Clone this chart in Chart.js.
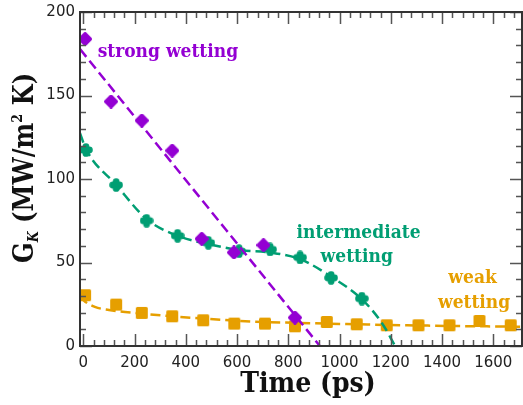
<!DOCTYPE html>
<html>
<head>
<meta charset="utf-8">
<script src="https://cdn.jsdelivr.net/npm/chart.js@4.4.1/dist/chart.umd.min.js"></script>
<style>
  html, body { margin: 0; padding: 0; background: #fff; }
  #chart { display: block; }
</style>
</head>
<body>
<canvas id="chart" width="523" height="405"></canvas>
<script>
// measured points (ps, MW/m^2 K)
const strongTime = [7, 108, 228, 347, 462, 588, 703, 826];
const strongGk = [183.8, 146.4, 135, 117, 64.2, 56, 60.4, 17];

const interTime = [10, 128, 247, 368, 488, 608, 729, 846, 967, 1087];
const interGk = [117.4, 96.4, 75, 66, 61.8, 56.8, 57.8, 53, 40.8, 28.4];

const weakTime = [7, 128, 228, 347, 468, 589, 709, 826, 950, 1067, 1184, 1308, 1429, 1546, 1668];
const weakGk = [30.4, 24.8, 19.8, 17.8, 15.4, 13.4, 13.4, 11.8, 14.4, 13, 12.4, 12.4, 12.4, 15, 12.4];

// dashed fit curves
const strongFitTime = [-13, 923];
const strongFitGk = [177.8, 0];

const interFitTime = [-13, 10, 128, 247, 368, 488, 608, 729, 846, 967, 1087, 1165, 1217];
const interFitGk = [127.5, 118, 96.5, 76, 66, 61, 57.5, 56, 52, 41.5, 28, 13.8, 0];

const weakFitTime = [-13, 0, 45, 100, 228, 345, 468, 589, 709, 826, 950, 1067, 1184, 1308, 1429, 1546, 1668, 1712];
const weakFitGk = [30, 27.5, 23.4, 21.6, 19.4, 17.8, 16.4, 15.2, 14.3, 13.9, 13.4, 13, 12.6, 12.3, 12, 11.8, 11.6, 11.5];

const xTicks = [0, 200, 400, 600, 800, 1000, 1200, 1400, 1600];
const yTicks = [0, 50, 100, 150, 200];

const purple = '#9400d3';
const green = '#009e73';
const orange = '#e69f00';
const serif = '"DejaVu Serif Condensed", "DejaVu Serif", serif';

function zip(xs, ys) {
  return xs.map((x, i) => ({ x: x, y: ys[i] }));
}

function marker(kind, color) {
  const c = document.createElement('canvas');
  c.width = 14; c.height = 14;
  const g = c.getContext('2d');
  g.fillStyle = color;
  g.strokeStyle = color;
  g.lineJoin = 'round';
  if (kind === 'diamond') {
    g.lineWidth = 3.5;
    g.beginPath();
    g.moveTo(7, 1.8); g.lineTo(12.2, 7); g.lineTo(7, 12.2); g.lineTo(1.8, 7);
    g.closePath();
    g.fill(); g.stroke();
  } else if (kind === 'square') {
    g.lineWidth = 3;
    g.beginPath();
    g.rect(2.5, 2.5, 9, 9);
    g.fill(); g.stroke();
  } else {
    // rounded cross
    g.beginPath();
    [[7, 3.6], [10.4, 7], [7, 10.4], [3.6, 7]].forEach(p => {
      g.moveTo(p[0] + 3.4, p[1]);
      g.arc(p[0], p[1], 3.4, 0, Math.PI * 2);
    });
    g.fill();
    g.fillRect(4, 4, 6, 6);
  }
  return c;
}

function fitSet(xs, ys, color) {
  return {
    data: zip(xs, ys),
    showLine: true,
    borderColor: color,
    borderWidth: 2.5,
    borderDash: [10, 5],
    pointRadius: 0,
    pointHoverRadius: 0,
    cubicInterpolationMode: 'monotone',
    fill: false
  };
}

// image markers are drawn at their own size, the small radius keeps
// chart.js from reserving overflow room on the right
function pointSet(xs, ys, color, kind) {
  return {
    data: zip(xs, ys),
    showLine: false,
    pointStyle: marker(kind, color),
    pointRadius: 1,
    pointHoverRadius: 1,
    pointBorderWidth: 0,
    borderWidth: 0,
    backgroundColor: color,
    borderColor: color
  };
}

const frame = {
  id: 'frame',
  afterDatasetsDraw(chart) {
    const ctx = chart.ctx;
    const a = chart.chartArea;
    const xs = chart.scales.x, ys = chart.scales.y;
    ctx.save();
    ctx.strokeStyle = '#555';
    ctx.lineWidth = 1.5;
    // x ticks, bottom and top, pointing in
    for (let v = 0; v <= 1700; v += 40) {
      const px = Math.round(xs.getPixelForValue(v)) + 0.5;
      const len = v % 200 === 0 ? 12 : 6;
      ctx.beginPath();
      ctx.moveTo(px, a.bottom); ctx.lineTo(px, a.bottom - len);
      ctx.moveTo(px, a.top); ctx.lineTo(px, a.top + len);
      ctx.stroke();
    }
    for (let v = 0; v <= 200; v += 10) {
      const py = Math.round(ys.getPixelForValue(v)) + 0.5;
      const len = v % 50 === 0 ? 12 : 6;
      ctx.beginPath();
      ctx.moveTo(a.left, py); ctx.lineTo(a.left + len, py);
      ctx.moveTo(a.right, py); ctx.lineTo(a.right - len, py);
      ctx.stroke();
    }
    ctx.strokeStyle = '#333';
    ctx.lineWidth = 2;
    ctx.strokeRect(a.left, a.top, a.right - a.left, a.bottom - a.top);

    // series labels
    ctx.font = 'bold 19px ' + serif;
    ctx.textAlign = 'center';
    ctx.textBaseline = 'alphabetic';
    const put = (txt, x, y, color) => {
      ctx.fillStyle = color;
      ctx.fillText(txt, xs.getPixelForValue(x), ys.getPixelForValue(y));
    };
    put('strong wetting', 330, 173, purple);
    put('intermediate', 1074, 64.8, green);
    put('wetting', 1067, 50.4, green);
    put('weak', 1519, 37.5, orange);
    put('wetting', 1525, 22.5, orange);

    // axis titles
    ctx.fillStyle = '#111';
    ctx.font = 'bold 28px ' + serif;
    ctx.textBaseline = 'alphabetic';
    ctx.fillText('Time (ps)', 308, 392);

    ctx.translate(33, 168);
    ctx.rotate(-Math.PI / 2);
    const parts = [
      { t: 'G', f: 'bold 27px ' + serif, dy: 0 },
      { t: 'K', f: 'italic bold 14px ' + serif, dy: 5 },
      { t: ' (MW/m', f: 'bold 27px ' + serif, dy: 0 },
      { t: '2', f: 'bold 14px ' + serif, dy: -11 },
      { t: ' K)', f: 'bold 27px ' + serif, dy: 0 }
    ];
    let total = 0;
    parts.forEach(p => { ctx.font = p.f; p.w = ctx.measureText(p.t).width; total += p.w; });
    let cx = -total / 2;
    ctx.textAlign = 'left';
    parts.forEach(p => {
      ctx.font = p.f;
      ctx.fillText(p.t, cx, p.dy);
      cx += p.w;
    });
    ctx.restore();
  }
};

new Chart(document.getElementById('chart'), {
  type: 'scatter',
  data: {
    datasets: [
      fitSet(strongFitTime, strongFitGk, purple),
      pointSet(strongTime, strongGk, purple, 'diamond'),
      fitSet(interFitTime, interFitGk, green),
      pointSet(interTime, interGk, green, 'cross'),
      fitSet(weakFitTime, weakFitGk, orange),
      pointSet(weakTime, weakGk, orange, 'square')
    ]
  },
  options: {
    responsive: false,
    devicePixelRatio: 1,
    animation: false,
    events: [],
    layout: { padding: { top: 12, right: 1, left: 0, bottom: 0 } },
    plugins: { legend: { display: false }, tooltip: { enabled: false } },
    scales: {
      x: {
        type: 'linear',
        min: -13,
        max: 1712,
        afterBuildTicks: s => { s.ticks = xTicks.map(v => ({ value: v })); },
        afterFit: s => { s.height = 59; s.paddingRight = 0; s.paddingLeft = 0; },
        grid: { display: false, drawTicks: false },
        border: { display: false },
        ticks: { padding: 8, maxRotation: 0, autoSkip: false, color: '#222', font: { family: 'DejaVu Sans', size: 15 }, callback: v => String(v) }
      },
      y: {
        type: 'linear',
        min: 0,
        max: 200,
        afterBuildTicks: s => { s.ticks = yTicks.map(v => ({ value: v })); },
        afterFit: s => { s.width = 80; s.paddingTop = 0; s.paddingBottom = 0; },
        grid: { display: false, drawTicks: false },
        border: { display: false },
        ticks: { padding: 5, autoSkip: false, color: '#222', font: { family: 'DejaVu Sans', size: 15 } }
      }
    }
  },
  plugins: [frame]
});
</script>
</body>
</html>
